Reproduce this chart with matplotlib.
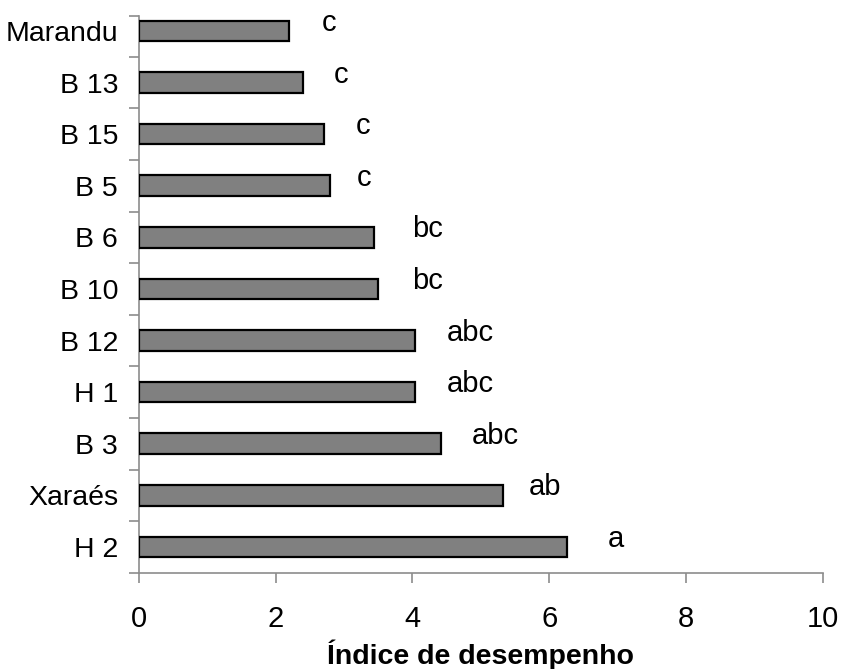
import matplotlib
matplotlib.use("Agg")
import matplotlib.pyplot as plt
import numpy as np

categories = ["H 2", "Xaraés", "B 3", "H 1", "B 12", "B 10", "B 6", "B 5", "B 15", "B 13", "Marandu"]
values = [6.26, 5.32, 4.42, 4.03, 4.03, 3.49, 3.44, 2.79, 2.70, 2.40, 2.20]
letters = ["a", "ab", "abc", "abc", "abc", "bc", "bc", "c", "c", "c", "c"]
letter_x = [6.85, 5.70, 4.87, 4.50, 4.50, 4.00, 4.00, 3.18, 3.17, 2.85, 2.67]
xticks = [0, 2, 4, 6, 8, 10]

plt.rcParams['font.family'] = ['Liberation Sans', 'DejaVu Sans']

fig = plt.figure(figsize=(8.43, 6.69), dpi=100)
ax = fig.add_axes([139/843, 1 - 572.7/669, (822.7 - 139)/843, (572.7 - 16)/669])

y = np.arange(len(categories))
ax.barh(y, values, height=0.4, color="#808080", edgecolor="black", linewidth=1.6, zorder=3)

for yi, xl, lt in zip(y, letter_x, letters):
    ax.text(xl, yi, lt, fontsize=21, va="baseline", ha="left", color="black")

ax.set_xlim(0, 10)
ax.set_ylim(-0.5, 10.29)
ax.set_xticks(xticks)
ax.set_xticklabels([str(t) for t in xticks], fontsize=21)

# boundaries as major ticks, labels as minor
ax.set_yticks(np.arange(-0.5, len(categories) - 0.5, 1.0).tolist() + [10.29])
ax.set_yticklabels([])
ax.set_yticks(y, minor=True)
ax.set_yticklabels(categories, minor=True, fontsize=20.5)
ax.tick_params(axis="y", which="minor", length=0, pad=15)
ax.tick_params(axis="y", which="major", length=7, color="#8c8c8c", width=1.2)
ax.tick_params(axis="x", length=7, color="#8c8c8c", width=1.2, pad=16)

for s in ["top", "right"]:
    ax.spines[s].set_visible(False)
for s in ["left", "bottom"]:
    ax.spines[s].set_color("#8c8c8c")
    ax.spines[s].set_linewidth(1.2)

ax.set_xlabel("Índice de desempenho", fontsize=20.5, fontweight="bold", labelpad=5)

fig.savefig("out.png", dpi=100)
